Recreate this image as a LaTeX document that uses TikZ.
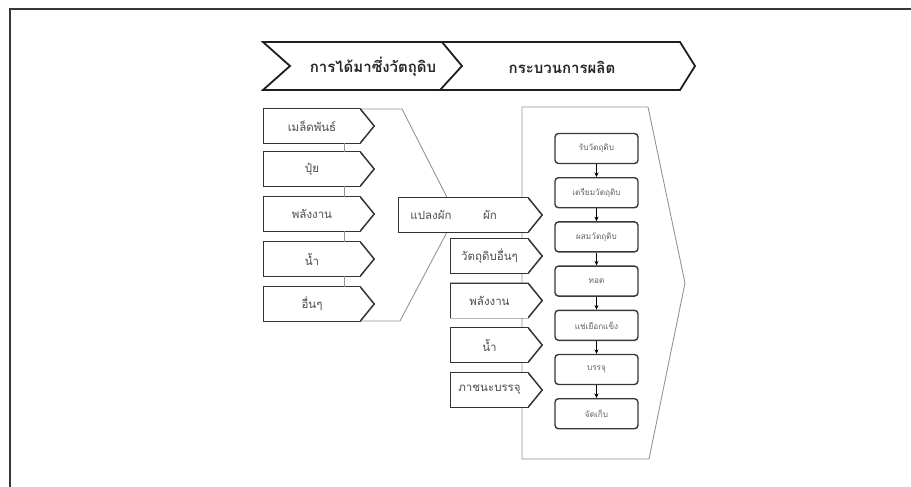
\documentclass[tikz,border=0pt]{standalone}
\usepackage{fontspec}
\newfontfamily\thai[Script=Thai]{Loma}
\usetikzlibrary{arrows.meta,calc}

\begin{document}
\begin{tikzpicture}[x=1pt,y=-1pt,
  frameline/.style={draw=black!78, line width=2.6pt},
  banner/.style={draw=black!88, line width=1.8pt, line join=miter},
  bannertext/.style={font=\thai\bfseries\fontsize{15}{18}\selectfont, text=black!85},
  guide/.style={draw=black!42, line width=0.9pt},
  boxedge/.style={draw=black!80, line width=1.5pt, line join=miter},
  inbox/.style={rectangle, inner sep=0pt, minimum height=34, minimum width=#1,
    fill=white, text=black!70, font=\thai\fontsize{11.5}{13}\selectfont,
    append after command={\pgfextra{\draw[boxedge]
      (\tikzlastnode.north west) -- (\tikzlastnode.north east)
      -- ([xshift=14pt]\tikzlastnode.east) -- (\tikzlastnode.south east)
      -- (\tikzlastnode.south west) -- cycle;}}},
  plain/.style={inner sep=0pt, text=black!70, font=\thai\fontsize{11.5}{13}\selectfont},
  stepbox/.style={draw=black!78, line width=1.4pt, rounded corners=3.5pt,
    minimum width=83, minimum height=30, inner sep=0pt, fill=white,
    text=black!62, font=\thai\fontsize{8.2}{10}\selectfont},
  flow/.style={-{Stealth[length=4.5pt,width=4pt]}, line width=0.6pt, draw=black}]

\useasboundingbox (0,0) rectangle (911,487);

% page frame (only the top and left edges fall inside the picture)
\draw[frameline] (960,9) -- (10,9) -- (10,540);

% header chevrons
\draw[banner] (263,42) -- (442,42) -- (462,66) -- (440,90) -- (263,90) -- (290,66) -- cycle;
\draw[banner] (442,42) -- (680,42) -- (695,66) -- (680,90) -- (440,90);
\node[bannertext] (hsource) at (373,67) {การได้มาซึ่งวัตถุดิบ};
\node[bannertext] (hprocess) at (562,67) {กระบวนการผลิต};

% grey outlines grouping the inputs and the production line
\draw[guide] (360,109) -- (402,109) -- (456,215) -- (400,321) -- (359,321);
\draw[guide] (522,107) -- (648,107) -- (685,283) -- (649,459) -- (522,459) -- cycle;

% farm inputs
\node[inbox=96] (seed)   at (312,126) {เมล็ดพันธ์};
\node[inbox=96] (fert)   at (312,169) {ปุ๋ย};
\node[inbox=96] (energy) at (312,214) {พลังงาน};
\node[inbox=96] (water)  at (312,259) {น้ำ};
\node[inbox=96] (other)  at (312,304) {อื่นๆ};
\foreach \a/\b in {seed/fert, fert/energy, energy/water, water/other}
  \draw[guide] ([xshift=32pt]\a.south) -- ([xshift=32pt]\b.north);

% vegetable plot
\node[inbox=129] (plot) at (463.5,215) {};
\node[plain] (plotname) at (431,215) {แปลงผัก};
\node[plain] (veg) at (490,215) {ผัก};

% factory inputs
\node[inbox=77] (raw)    at (489.5,256)   {วัตถุดิบอื่นๆ};
\node[inbox=77] (power)  at (489.5,300.5) {พลังงาน};
\node[inbox=77] (water2) at (489.5,345)   {น้ำ};
\node[inbox=77] (pack)   at (489.5,390)   {ภาชนะบรรจุ};

% production steps
\node[stepbox] (s1) at (596.5,148.5) {รับวัตถุดิบ};
\node[stepbox] (s2) at (596.5,192.7) {เตรียมวัตถุดิบ};
\node[stepbox] (s3) at (596.5,236.9) {ผสมวัตถุดิบ};
\node[stepbox] (s4) at (596.5,281.1) {ทอด};
\node[stepbox] (s5) at (596.5,325.3) {แช่เยือกแข็ง};
\node[stepbox] (s6) at (596.5,369.5) {บรรจุ};
\node[stepbox] (s7) at (596.5,413.7) {จัดเก็บ};
\foreach \a/\b in {s1/s2, s2/s3, s3/s4, s4/s5, s5/s6, s6/s7}
  \draw[flow] (\a) -- (\b);

\end{tikzpicture}
\end{document}
